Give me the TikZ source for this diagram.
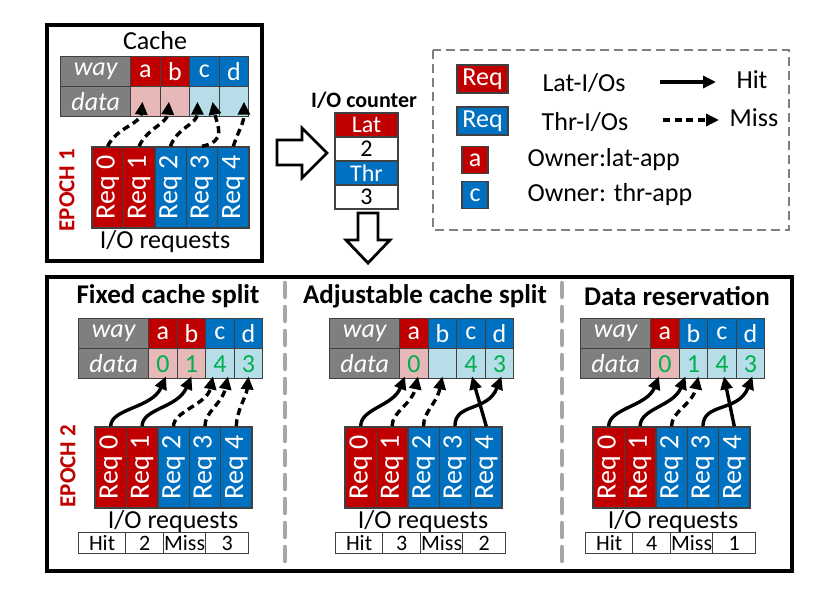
\documentclass[tikz,border=0pt]{standalone}
\usepackage{fontspec}
\setmainfont{Carlito}
\usetikzlibrary{arrows.meta,calc}
\definecolor{cred}{HTML}{C00000}
\definecolor{cblue}{HTML}{0070C0}
\definecolor{cgray}{HTML}{7F7F7F}
\definecolor{cpink}{HTML}{E6B9B8}
\definecolor{clblue}{HTML}{B7DEE8}
\definecolor{cgreen}{HTML}{00B050}
\definecolor{cline}{HTML}{404040}
\definecolor{cdash}{HTML}{A6A6A6}
\tikzset{
  ftext/.style={font=\fontsize{26}{28}\selectfont},
  fbold/.style={font=\fontsize{27}{29}\selectfont\bfseries},
  cell/.style={draw=cline, line width=1.4pt, minimum height=30, inner sep=0, anchor=north west, ftext},
  graycell/.style={cell, fill=cgray, text=white, font=\fontsize{26}{28}\selectfont\itshape, minimum width=70},
  reqbox/.style={draw=cline, line width=1.4pt, rotate=90, minimum width=81, minimum height=31.4, inner sep=0, text=white, font=\fontsize{28}{30}\selectfont},
  epoch/.style={rotate=90, text=cred, font=\fontsize{23}{25}\selectfont\bfseries},
  hmcell/.style={draw=cline, line width=1.2pt, minimum height=21, inner sep=0, anchor=north west, font=\fontsize{22}{24}\selectfont},
  ctr/.style={draw=cline, line width=1.4pt, minimum width=63, minimum height=24, inner sep=0, font=\fontsize{24}{26}\selectfont},
  legreq/.style={draw=cline, line width=1.4pt, minimum width=51, minimum height=28, inner sep=0, text=white, ftext},
  legsq/.style={draw=cline, line width=1.4pt, minimum width=26, minimum height=27, inner sep=0, text=white, ftext},
  hit/.style={-{Triangle[length=13pt,width=12pt]}, line width=3.4pt, black},
  miss/.style={hit, dash pattern=on 7pt off 4.5pt},
  frame/.style={line width=4.6pt, black},
  divider/.style={line width=4.5pt, cdash, dash pattern=on 14pt off 10pt, line cap=round},
  legendbox/.style={line width=1.8pt, cgray, dash pattern=on 9pt off 5pt},
  blockarrow/.style={line width=2.8pt, black, fill=white, line join=miter}
}
\newcommand\cachetab[5]{%
  \node[graycell] (#1way) at (#2,#3) {way};
  \node[graycell] (#1data) at (#2,#3+30) {data};
  \foreach \c/\wc/\dc/\v [count=\i from 0] in {#5} {
    \node[cell, fill=\wc, text=white, minimum width=#4] (#1w\c) at (#2+70+\i*#4,#3) {\c};
    \node[cell, fill=\dc, text=cgreen, minimum width=#4] (#1d\c) at (#2+70+\i*#4,#3+30) {\v};
  }
}
\newcommand\reqs[4]{%
  \foreach \col [count=\i from 0] in {#4} {
    \node[reqbox, fill=\col] (#1r\i) at (#2+15.7+\i*31.4,#3+40.5) {Req \i};
  }
}
\newcommand\hitmiss[4]{%
  \node[hmcell, minimum width=47] (#1hit) at (#2,532) {Hit};
  \node[hmcell, minimum width=38] (#1hv) at (#2+47,532) {#3};
  \node[hmcell, minimum width=42] (#1miss) at (#2+85,532) {Miss};
  \node[hmcell, minimum width=43] (#1mv) at (#2+127,532) {#4};
}
\begin{document}
\begin{tikzpicture}[x=1pt,y=-1pt]
\useasboundingbox (0,0) rectangle (818,589);
\fill[white] (0,0) rectangle (818,589);

% ---------- EPOCH 1 ----------
\draw[frame] (47,25) rectangle (262,261);
\node[ftext] (cachelbl) at (155,41) {Cache};
\cachetab{e1}{60}{56}{29.5}{a/cred/cpink/{},b/cred/cpink/{},c/cblue/clblue/{},d/cblue/clblue/{}}
\reqs{e1}{92}{147}{cred,cred,cblue,cblue,cblue}
\node[ftext] (e1io) at (165,242) {I/O requests};
\node[epoch] (e1ep) at (67,190) {EPOCH 1};
\draw[miss] (e1r0.east) .. controls +(8,-18) and +(-2,22) .. ([xshift=-3pt]e1da.center);
\draw[miss] (e1r1.east) .. controls +(8,-18) and +(-2,22) .. ([xshift=-6pt]e1db.center);
\draw[miss] (e1r2.east) .. controls +(6,-18) and +(0,22) .. ([xshift=-7pt]e1dc.center);
\draw[miss] (e1r3.east) .. controls +(25,-5) and +(5,25) .. ([xshift=8pt]e1dc.center);
\draw[miss] (e1r4.east) .. controls +(6,-18) and +(0,22) .. ([xshift=10pt]e1dd.center);

% ---------- arrows & counter ----------
\draw[blockarrow] (277,140) -- (302,140) -- (302,128) -- (327,153) -- (302,178) -- (302,165) -- (277,165) -- cycle;
\draw[blockarrow] (358,213) -- (378,213) -- (378,240) -- (390,240) -- (368,263) -- (346,240) -- (358,240) -- cycle;
\node[font=\fontsize{22}{24}\selectfont\bfseries] (ctrlbl) at (364,100) {I/O counter};
\node[ctr, fill=cred, text=white] (ctrlat) at (366.5,125) {Lat};
\node[ctr] (ctr2) at (366.5,149) {2};
\node[ctr, fill=cblue, text=white] (ctrthr) at (366.5,173) {Thr};
\node[ctr] (ctr3) at (366.5,197) {3};

% ---------- legend ----------
\draw[legendbox] (433,50) rectangle (789,230);
\node[legreq, fill=cred] (lgr) at (482.5,79) {Req};
\node[legreq, fill=cblue] (lgb) at (482.5,121) {Req};
\node[legsq, fill=cred] (lga) at (475,160) {a};
\node[legsq, fill=cblue] (lgc) at (475,195) {c};
\node[ftext] (lglat) at (584,83) {Lat-I/Os};
\node[ftext] (lgthr) at (585,122) {Thr-I/Os};
\node[ftext, anchor=west] (lgown1) at (524,160) {Owner:lat-app};
\node[ftext, anchor=west] (lgown2) at (524,195) {Owner: thr-app};
\node[ftext] (lghit) at (752,80) {Hit};
\node[ftext] (lgmiss) at (754,118) {Miss};
\coordinate (hitS) at (660,82);
\coordinate (hitE) at (716,82);
\coordinate (missS) at (663,120);
\coordinate (missE) at (719,120);
\draw[hit] (hitS) -- (hitE);
\draw[miss] (missS) -- (missE);

% ---------- EPOCH 2 ----------
\draw[frame] (47,277) rectangle (792,571);
\draw[divider] (285,283) -- (285,566);
\draw[divider] (562,283) -- (562,566);
\node[epoch] (e2ep) at (68,466) {EPOCH 2};

% Panel 1
\node[fbold] (p1title) at (168,296) {Fixed cache split};
\cachetab{p1}{78}{318}{28.5}{a/cred/cpink/0,b/cred/cpink/1,c/cblue/clblue/4,d/cblue/clblue/3}
\reqs{p1}{95}{427}{cred,cred,cblue,cblue,cblue}
\node[ftext] (p1io) at (173,522) {I/O requests};
\hitmiss{p1}{78}{2}{3}
\draw[hit] (p1r0.east) .. controls +(0,-18) and +(-14,32) .. ([xshift=3pt,yshift=3pt]p1da.south);
\draw[hit] (p1r1.east) .. controls +(0,-18) and +(-14,32) .. ([xshift=0pt,yshift=3pt]p1db.south);
\draw[miss] (p1r2.east) .. controls +(0,-15) and +(-6,28) .. ([xshift=-7pt,yshift=3pt]p1dc.south);
\draw[miss] (p1r3.east) .. controls +(0,-15) and +(-6,28) .. ([xshift=8pt,yshift=3pt]p1dc.south);
\draw[miss] (p1r4.east) .. controls +(0,-15) and +(-2,20) .. ([xshift=0pt,yshift=3pt]p1dd.south);

% Panel 2
\node[fbold] (p2title) at (425,296) {Adjustable cache split};
\cachetab{p2}{329}{318}{28.5}{a/cred/cpink/0,b/cblue/clblue/{},c/cblue/clblue/4,d/cblue/clblue/3}
\reqs{p2}{345}{427}{cred,cred,cblue,cblue,cblue}
\node[ftext] (p2io) at (423,522) {I/O requests};
\hitmiss{p2}{335}{3}{2}
\draw[hit] (p2r0.east) .. controls +(0,-18) and +(-12,30) .. ([xshift=-9pt,yshift=3pt]p2da.south);
\draw[miss] (p2r1.east) .. controls +(0,-15) and +(-6,28) .. ([xshift=4pt,yshift=3pt]p2da.south);
\draw[miss] (p2r2.east) .. controls +(0,-15) and +(-6,28) .. ([xshift=0pt,yshift=3pt]p2db.south);
\draw[hit] (p2r3.east) .. controls +(0,-24) and +(-14,36) .. ([xshift=2pt,yshift=3pt]p2dd.south);
\draw[hit] (p2r4.east) -- ([xshift=1pt,yshift=3pt]p2dc.south);

% Panel 3
\node[fbold] (p3title) at (677,296) {Data reservation};
\cachetab{p3}{580}{318}{28.5}{a/cred/cpink/0,b/cblue/clblue/1,c/cblue/clblue/4,d/cblue/clblue/3}
\reqs{p3}{593}{427}{cred,cred,cblue,cblue,cblue}
\node[ftext] (p3io) at (673,522) {I/O requests};
\hitmiss{p3}{585}{4}{1}
\draw[hit] (p3r0.east) .. controls +(0,-18) and +(-12,30) .. ([xshift=-6pt,yshift=3pt]p3da.south);
\draw[hit] (p3r1.east) .. controls +(0,-18) and +(-12,30) .. ([xshift=-8pt,yshift=3pt]p3db.south);
\draw[miss] (p3r2.east) .. controls +(0,-15) and +(-6,28) .. ([xshift=5pt,yshift=3pt]p3db.south);
\draw[hit] (p3r3.east) .. controls +(0,-24) and +(-14,36) .. ([xshift=2pt,yshift=3pt]p3dd.south);
\draw[hit] (p3r4.east) -- ([xshift=2pt,yshift=3pt]p3dc.south);
\end{tikzpicture}
\end{document}
